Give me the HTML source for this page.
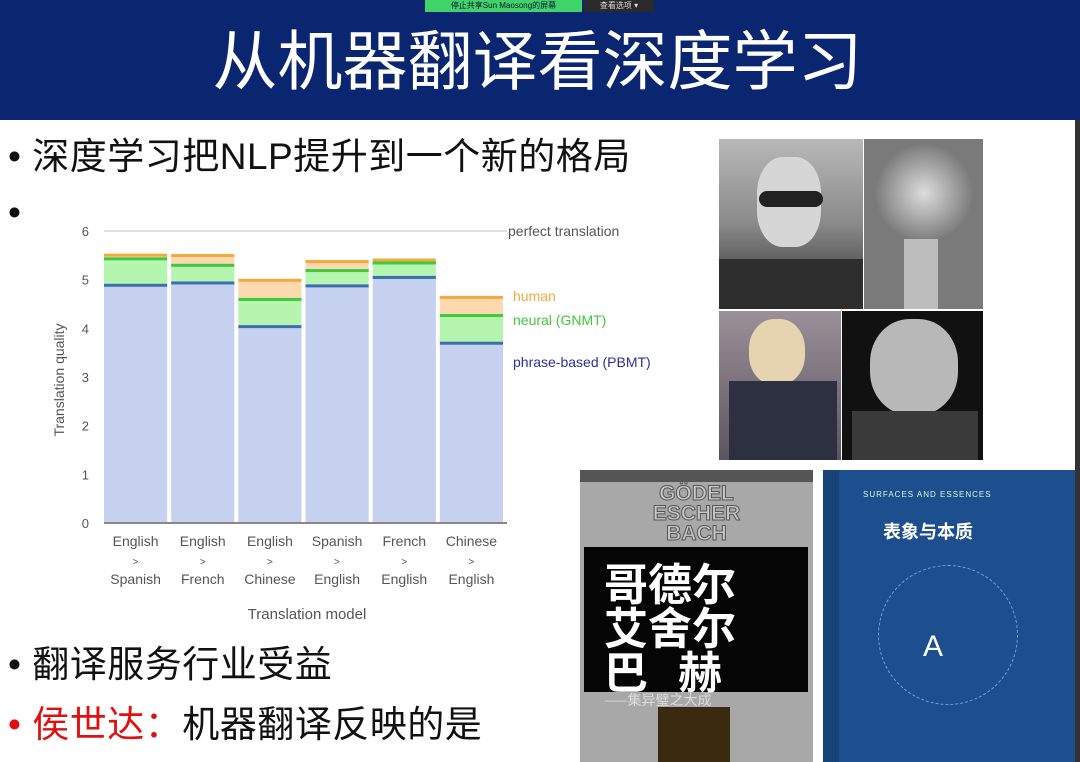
<!DOCTYPE html>
<html><head><meta charset="utf-8">
<style>
*{margin:0;padding:0;box-sizing:border-box}
body{width:1080px;height:762px;overflow:hidden;background:#fff;position:relative;font-family:"Liberation Sans","Noto Sans CJK SC",sans-serif}
.abs{position:absolute}
.bullet{position:absolute;font-size:37px;color:#111;white-space:nowrap;line-height:1;letter-spacing:0.5px}
</style></head><body>
<div class="abs" style="left:0;top:0;width:1080px;height:120px;background:#0b2670"></div>
<div class="abs" style="left:425px;top:0;width:157px;height:12px;background:#3fd36a;font-size:8px;color:#113;text-align:center;line-height:12px">停止共享Sun Maosong的屏幕</div>
<div class="abs" style="left:584px;top:0;width:70px;height:12px;background:#2a2a2a;font-size:8px;color:#ddd;text-align:center;line-height:12px">查看选项 ▾</div>
<div class="abs" style="left:0;top:22px;width:1075px;text-align:center;font-size:65px;color:#fff;line-height:80px">从机器翻译看深度学习</div>
<div class="abs" style="left:1075px;top:120px;width:5px;height:642px;background:#333"></div>

<div class="bullet" style="left:8px;top:138px">• 深度学习把NLP提升到一个新的格局</div>
<div class="bullet" style="left:8px;top:194px">•</div>
<div class="bullet" style="left:8px;top:646px">• 翻译服务行业受益</div>
<div class="bullet" style="left:8px;top:706px"><span style="color:#e01010">• 侯世达：</span>机器翻译反映的是</div>

<svg class="abs" style="left:0;top:0" width="700" height="640" id="chart"></svg>

<div class="abs" style="left:719px;top:139px;width:264px;height:321px;background:#fff">
  <div class="abs" style="left:0;top:0;width:144px;height:170px;background:linear-gradient(180deg,#b8b8b8,#8a8a8a 50%,#2a2a2a)"><div class="abs" style="left:38px;top:18px;width:64px;height:90px;border-radius:40%;background:#d6d6d6"></div><div class="abs" style="left:40px;top:52px;width:64px;height:16px;background:#222;border-radius:8px"></div><div class="abs" style="left:0;top:120px;width:144px;height:50px;background:#2e2e2e"></div></div>
  <div class="abs" style="left:145px;top:0;width:119px;height:170px;background:#7a7a7a"><div class="abs" style="left:12px;top:6px;width:96px;height:96px;border-radius:50%;background:radial-gradient(#ddd,#555)"></div><div class="abs" style="left:40px;top:100px;width:34px;height:70px;background:#bdbdbd"></div></div>
  <div class="abs" style="left:0;top:172px;width:122px;height:149px;background:linear-gradient(#9a9098,#5c5460)"><div class="abs" style="left:30px;top:8px;width:56px;height:66px;border-radius:45%;background:#e6d4b0"></div><div class="abs" style="left:10px;top:70px;width:108px;height:79px;background:#2d3040"></div></div>
  <div class="abs" style="left:123px;top:172px;width:141px;height:149px;background:#111"><div class="abs" style="left:28px;top:8px;width:88px;height:96px;border-radius:45%;background:#b8b8b8"></div><div class="abs" style="left:10px;top:100px;width:126px;height:49px;background:#3a3a3a"></div></div>
</div>

<div class="abs" style="left:580px;top:470px;width:233px;height:292px;background:#a8a8a8">
  <div class="abs" style="left:0;top:0;width:233px;height:12px;background:#555"></div>
  <div class="abs" style="left:0;top:14px;width:233px;height:60px;text-align:center;font:bold 21px/20px 'Liberation Sans',sans-serif;color:#c8c8c8;-webkit-text-stroke:1px #555">GÖDEL<br>ESCHER<br>BACH</div>
  <div class="abs" style="left:4px;top:77px;width:224px;height:145px;background:#050505;color:#fff;font:bold 44px/44px 'Noto Sans CJK SC',sans-serif;padding:12px 0 0 20px">哥德尔<br>艾舍尔<br>巴&nbsp;&nbsp;&nbsp;赫<div style="font-size:14px;line-height:18px;color:#ddd;font-weight:normal">——集异璧之大成</div></div>
  <div class="abs" style="left:78px;top:237px;width:72px;height:55px;background:#3a2a10"></div>
</div>
<div class="abs" style="left:823px;top:470px;width:252px;height:292px;background:#1d4f8e">
  <div class="abs" style="left:0;top:0;width:16px;height:292px;background:#184378"></div>
  <div class="abs" style="left:40px;top:20px;width:200px;font-size:8px;color:#cfd;letter-spacing:1px">SURFACES AND ESSENCES</div>
  <div class="abs" style="left:60px;top:48px;font:bold 18px 'Noto Sans CJK SC',sans-serif;color:#fff">表象与本质</div>
  <div class="abs" style="left:100px;top:160px;font-size:30px;color:#fff">A</div>
  <div class="abs" style="left:55px;top:95px;width:140px;height:140px;border-radius:50%;border:1px dashed #7aa0d0"></div>
</div>

<script>
const categories=[["English","Spanish"],["English","French"],["English","Chinese"],["Spanish","English"],["French","English"],["Chinese","English"]];
const pbmt=[4.885,4.932,4.035,4.872,5.046,3.694];
const gnmt=[5.428,5.295,4.594,5.187,5.343,4.263];
const human=[5.504,5.496,4.987,5.372,5.404,4.636];
const yTicks=[0,1,2,3,4,5,6];
const NS="http://www.w3.org/2000/svg";
const svg=document.getElementById('chart');
const x0=104,x1=507,yBase=523,yTop=231;
const y=v=>yBase-(v/6)*(yBase-yTop);
const band=(x1-x0)/categories.length, gap=4;
const bx=i=>x0+i*band;
function mk(tag,attrs,txt){const e=document.createElementNS(NS,tag);for(const k in attrs)e.setAttribute(k,attrs[k]);if(txt!==undefined)e.textContent=txt;svg.appendChild(e);return e;}
const grid=mk('line',{x1:x0,x2:x1,y1:y(6),y2:y(6),stroke:'#e0e0e0','stroke-width':2});


const pt=mk('text',{x:508,y:y(6)+5,'font-size':14,fill:'#555'},'perfect translation');


yTicks.forEach(t=>{const e=mk('text',{x:89,y:y(t)+5,'font-size':13,fill:'#555','text-anchor':'end'},String(t));

});
function seg(i,lo,hi,fill,line,name){
  const w=band-gap, X=bx(i);
  const r=mk('rect',{x:X,y:y(hi),width:w,height:y(lo)-y(hi),fill:fill});
  
  
  const l=mk('rect',{x:X,y:y(hi)-1.5,width:w,height:3,fill:line});
  
  
}
categories.forEach((c,i)=>{
  seg(i,human[i]<gnmt[i]?human[i]:gnmt[i],human[i],'#fcd9ae','#f5a83c','bar-human');
  seg(i,pbmt[i],gnmt[i],'#b6f5b0','#40c840','bar-gnmt');
  seg(i,0,pbmt[i],'#c5d1ef','#3a6fb0','bar-pbmt');
  const cx=bx(i)+(band-gap)/2;
  [[c[0],541],['>',560],[c[1],579]].forEach(([s,yy])=>{const e=mk('text',{x:cx,y:yy+5,'font-size':s=='>'?10:14,fill:'#555','text-anchor':'middle'},s);
  
  });
});
const ax=mk('line',{x1:x0,x2:x1,y1:yBase,y2:yBase,stroke:'#888','stroke-width':2});


const xt=mk('text',{x:307,y:619,'font-size':15,fill:'#555','text-anchor':'middle'},'Translation model');


const yt=mk('text',{x:0,y:0,'font-size':14,fill:'#555','text-anchor':'middle',transform:'translate(64,380) rotate(-90)'},'Translation quality');


[['human','#f5a83c',301],['neural (GNMT)','#3fc83f',325],['phrase-based (PBMT)','#2c2ea0',367]].forEach(([s,c,yy])=>{const e=mk('text',{x:513,y:yy,'font-size':14,fill:c},s);

});
</script>
</body></html>
